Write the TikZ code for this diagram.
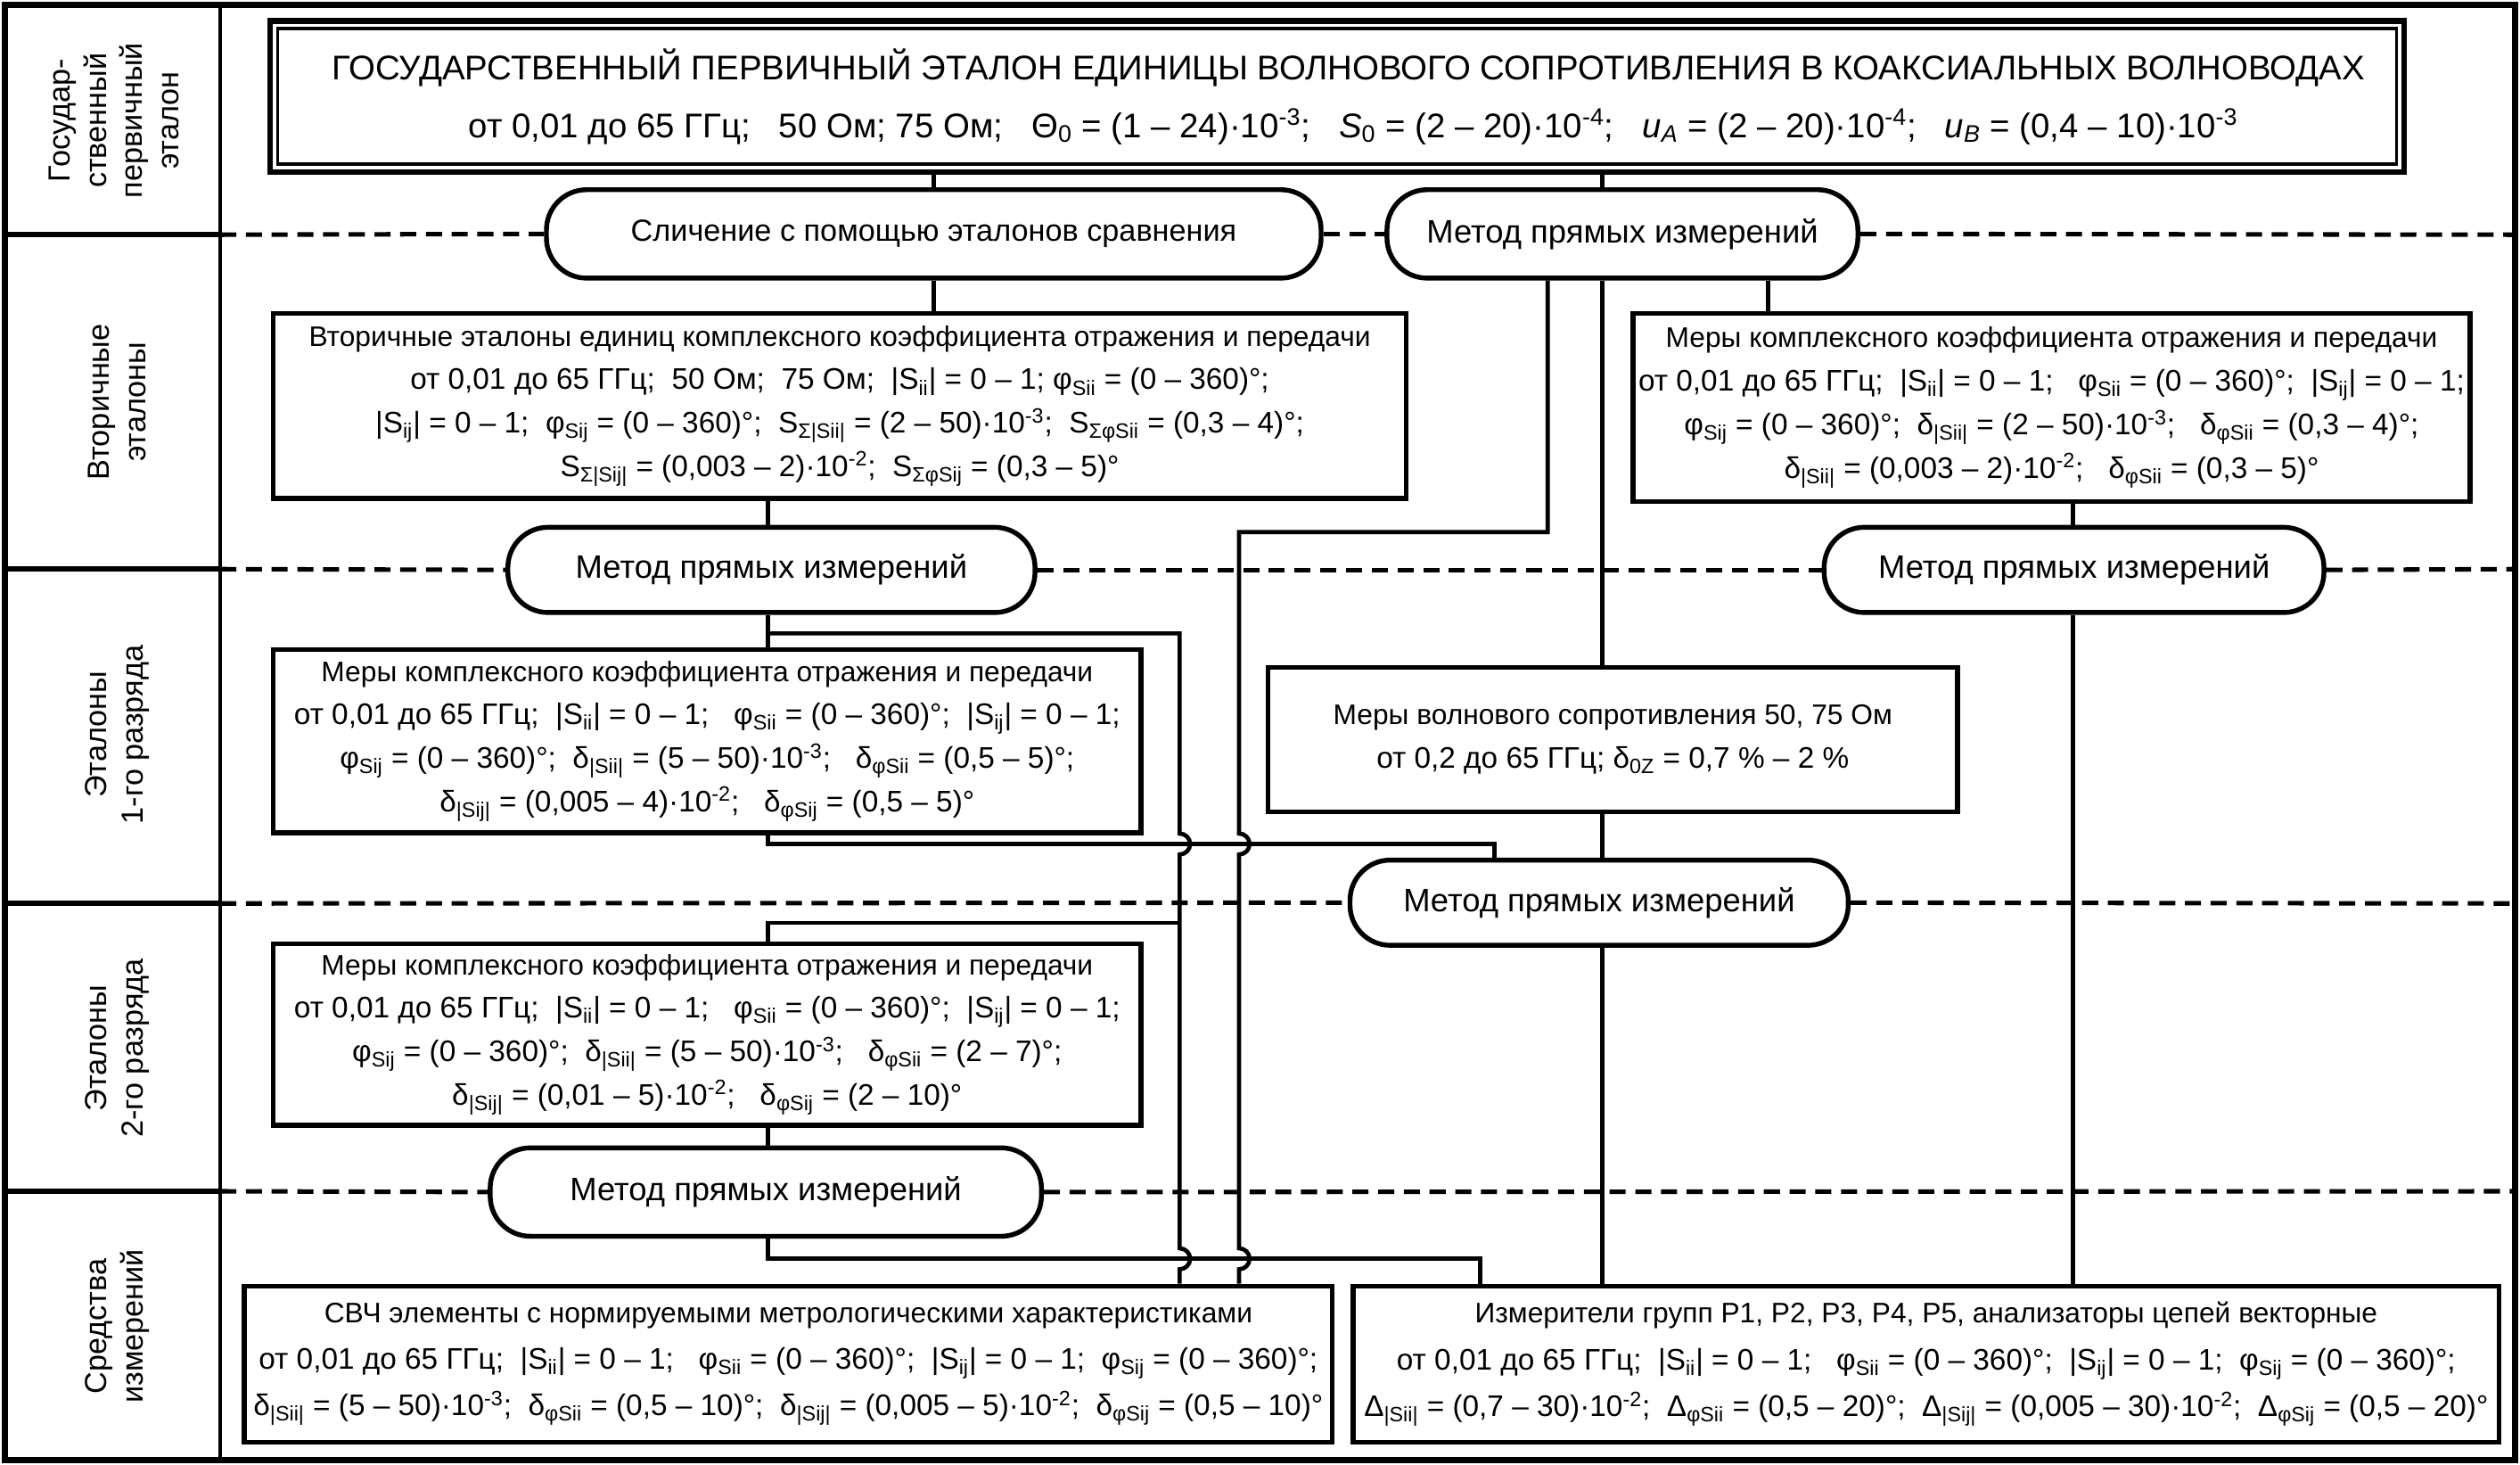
\documentclass[tikz,border=0pt]{standalone}
\usepackage{fontspec}
\setmainfont{Liberation Sans}
\usetikzlibrary{calc}
\newcommand\sbs[1]{\textsubscript{#1}}
\newcommand\sps[1]{\textsuperscript{#1}}
\newcommand\hd[1]{{\fontsize{17.6}{27}\selectfont #1}}
\tikzset{
  boxn/.style={draw, line width=3pt, inner sep=0pt, align=center, font=\fontsize{18.5}{27}\selectfont},
  pilln/.style={draw, line width=3pt, rounded corners=25pt, inner sep=0pt, align=center, font=\fontsize{20.2}{23}\selectfont, fill=white},
  conn/.style={line width=2.6pt},
  rowdash/.style={line width=2.8pt, dash pattern=on 10pt off 6pt},
  rowsolid/.style={line width=3.4pt},
  lab/.style={rotate=90, align=center, font=\fontsize{19}{22.5}\selectfont},
}
\begin{document}
\begin{tikzpicture}[x=1pt,y=-1pt]
\path[fill=white] (0,0) rectangle (1568,911);
\useasboundingbox (0,0) rectangle (1568,911);

% frame and left column
\draw[line width=3.8pt] (3,3) rectangle (1565,908);
\draw[line width=2.6pt] (137,3) -- (137,908);
\foreach \yy in {146,354,562,741} \draw[rowsolid] (3,\yy) -- (137,\yy);

% row labels
\node[lab] (l1) at (71,75) {Государ-\\ственный\\первичный\\эталон};
\node[lab] (l2) at (73,250) {Вторичные\\эталоны};
\node[lab] (l3) at (73,457) {Эталоны\\1-го разряда};
\node[lab] (l4) at (73,652) {Эталоны\\2-го разряда};
\node[lab] (l5) at (73,825) {Средства\\измерений};

% x positions of vertical connectors
\coordinate (vA) at (997,0);
\coordinate (vB) at (963,0);
\coordinate (vC) at (1100,0);
\coordinate (vD) at (771,0);
\coordinate (vE) at (734,0);
\coordinate (vF) at (478,0);
\coordinate (vG) at (930,0);
\coordinate (vH) at (921,0);
\coordinate (vI) at (1290,0);

% top double box
\node[draw, line width=3.4pt, inner sep=0pt, align=center, minimum width=1328pt, minimum height=94pt,
      font=\fontsize{21.3}{36}\selectfont] (top) at (832,60)
 {\hspace*{14pt}ГОСУДАРСТВЕННЫЙ ПЕРВИЧНЫЙ ЭТАЛОН ЕДИНИЦЫ ВОЛНОВОГО СОПРОТИВЛЕНИЯ В КОАКСИАЛЬНЫХ ВОЛНОВОДАХ\\
  \hspace*{20pt}от 0,01 до 65 ГГц;\ \ \ 50 Ом; 75 Ом;\ \ \ Θ\sbs{0} = (1 – 24)·10\sps{-3};\ \ \ \textit{S}\sbs{0} = (2 – 20)·10\sps{-4};\ \ \ \textit{u}\sbs{\textit{A}} = (2 – 20)·10\sps{-4};\ \ \ \textit{u}\sbs{\textit{B}} = (0,4 – 10)·10\sps{-3}};
\draw[line width=2pt] ($(top.north west)+(6.5,6.5)$) rectangle ($(top.south east)+(-6.5,-6.5)$);

% pills
\node[pilln, minimum width=482pt, minimum height=55pt, font=\fontsize{19}{23}\selectfont] (p1) at (581,145.5) {Сличение с помощью эталонов сравнения};
\node[pilln, minimum width=293pt, minimum height=55pt] (p2) at (1009.5,145.5) {Метод прямых измерений};
\node[pilln, minimum width=328pt, minimum height=53pt] (p3) at (480,354.5) {Метод прямых измерений};
\node[pilln, minimum width=311pt, minimum height=53pt] (p4) at (1290.5,354.5) {Метод прямых измерений};
\node[pilln, minimum width=310pt, minimum height=53pt] (p5) at (995,561.5) {Метод прямых измерений};
\node[pilln, minimum width=343pt, minimum height=55pt] (p6) at (476.5,741.5) {Метод прямых измерений};

% boxes
\node[boxn, minimum width=705pt, minimum height=115pt] (sec) at (522.5,252.5)
 {\hd{Вторичные эталоны единиц комплексного коэффициента отражения и передачи}\\
  от 0,01 до 65 ГГц;\ \ 50 Ом;\ \ 75 Ом;\ \ |S\sbs{ii}| = 0 – 1; φ\sbs{Sii} = (0 – 360)°;\\
  |S\sbs{ij}| = 0 – 1;\ \ φ\sbs{Sij} = (0 – 360)°;\ \ S\sbs{Σ|Sii|} = (2 – 50)·10\sps{-3};\ \ S\sbs{ΣφSii} = (0,3 – 4)°;\\
  S\sbs{Σ|Sij|} = (0,003 – 2)·10\sps{-2};\ \ S\sbs{ΣφSij} = (0,3 – 5)°};
\node[boxn, minimum width=521pt, minimum height=117pt] (rb) at (1276.5,253.5)
 {\hd{Меры комплексного коэффициента отражения и передачи}\\
  от 0,01 до 65 ГГц;\ \ |S\sbs{ii}| = 0 – 1;\ \ \ φ\sbs{Sii} = (0 – 360)°;\ \ |S\sbs{ij}| = 0 – 1;\\
  φ\sbs{Sij} = (0 – 360)°;\ \ δ\sbs{|Sii|} = (2 – 50)·10\sps{-3};\ \ \ δ\sbs{φSii} = (0,3 – 4)°;\\
  δ\sbs{|Sii|} = (0,003 – 2)·10\sps{-2};\ \ \ δ\sbs{φSii} = (0,3 – 5)°};
\node[boxn, minimum width=540pt, minimum height=114pt] (r1) at (440,461)
 {\hd{Меры комплексного коэффициента отражения и передачи}\\
  от 0,01 до 65 ГГц;\ \ |S\sbs{ii}| = 0 – 1;\ \ \ φ\sbs{Sii} = (0 – 360)°;\ \ |S\sbs{ij}| = 0 – 1;\\
  φ\sbs{Sij} = (0 – 360)°;\ \ δ\sbs{|Sii|} = (5 – 50)·10\sps{-3};\ \ \ δ\sbs{φSii} = (0,5 – 5)°;\\
  δ\sbs{|Sij|} = (0,005 – 4)·10\sps{-2};\ \ \ δ\sbs{φSij} = (0,5 – 5)°};
\node[boxn, minimum width=429pt, minimum height=90pt] (wave) at (1003.5,460)
 {\hd{Меры волнового сопротивления 50, 75 Ом}\\ от 0,2 до 65 ГГц; δ\sbs{0Z} = 0,7 \% – 2 \%};
\node[boxn, minimum width=540pt, minimum height=113pt] (r2) at (440,643.5)
 {\hd{Меры комплексного коэффициента отражения и передачи}\\
  от 0,01 до 65 ГГц;\ \ |S\sbs{ii}| = 0 – 1;\ \ \ φ\sbs{Sii} = (0 – 360)°;\ \ |S\sbs{ij}| = 0 – 1;\\
  φ\sbs{Sij} = (0 – 360)°;\ \ δ\sbs{|Sii|} = (5 – 50)·10\sps{-3};\ \ \ δ\sbs{φSii} = (2 – 7)°;\\
  δ\sbs{|Sij|} = (0,01 – 5)·10\sps{-2};\ \ \ δ\sbs{φSij} = (2 – 10)°};
\node[boxn, minimum width=677pt, minimum height=97pt, font=\fontsize{18.5}{29}\selectfont] (svch) at (490.5,848.5)
 {\hd{СВЧ элементы с нормируемыми метрологическими характеристиками}\\
  от 0,01 до 65 ГГц;\ \ |S\sbs{ii}| = 0 – 1;\ \ \ φ\sbs{Sii} = (0 – 360)°;\ \ |S\sbs{ij}| = 0 – 1;\ \ φ\sbs{Sij} = (0 – 360)°;\\
  δ\sbs{|Sii|} = (5 – 50)·10\sps{-3};\ \ δ\sbs{φSii} = (0,5 – 10)°;\ \ δ\sbs{|Sij|} = (0,005 – 5)·10\sps{-2};\ \ δ\sbs{φSij} = (0,5 – 10)°};
\node[boxn, minimum width=713pt, minimum height=97pt, font=\fontsize{18.5}{29}\selectfont] (izm) at (1198.5,848.5)
 {\hd{Измерители групп Р1, Р2, Р3, Р4, Р5, анализаторы цепей векторные}\\
  от 0,01 до 65 ГГц;\ \ |S\sbs{ii}| = 0 – 1;\ \ \ φ\sbs{Sii} = (0 – 360)°;\ \ |S\sbs{ij}| = 0 – 1;\ \ φ\sbs{Sij} = (0 – 360)°;\\
  Δ\sbs{|Sii|} = (0,7 – 30)·10\sps{-2};\ \ Δ\sbs{φSii} = (0,5 – 20)°;\ \ Δ\sbs{|Sij|} = (0,005 – 30)·10\sps{-2};\ \ Δ\sbs{φSij} = (0,5 – 20)°};

% dashed row boundaries
\draw[rowdash] (137,146) -- (p1.west);
\draw[rowdash] (p1.east) -- (p2.west);
\draw[rowdash] (p2.east) -- (1565,146);
\draw[rowdash] (137,354) -- (p3.west);
\draw[rowdash] (p3.east) -- (p4.west);
\draw[rowdash] (p4.east) -- (1565,354);
\draw[rowdash] (137,562) -- (p5.west);
\draw[rowdash] (p5.east) -- (1565,562);
\draw[rowdash] (137,741) -- (p6.west);
\draw[rowdash] (p6.east) -- (1565,741);

% junction coordinates
\coordinate (jB) at (771,331);
\coordinate (j1) at (478,394);
\coordinate (j2) at (734,574);
\coordinate (h1) at (0,525);
\coordinate (h2) at (0,783);

% connectors
\draw[conn] (top.south -| p1.north) -- (p1.north);
\draw[conn] (top.south -| vA) -- (p2.north -| vA);
\draw[conn] (p1.south) -- (sec.north -| p1.south);
\draw[conn] (p2.south -| vC) -- (rb.north -| vC);
\draw[conn] (p2.south -| vA) -- (wave.north -| vA);
\draw[conn] (p2.south -| vB) |- (jB) -- (771,518.5) arc[start angle=-90,end angle=90,radius=6.5]
  -- (771,776.5) arc[start angle=-90,end angle=90,radius=6.5] -- (svch.north -| vD);
\draw[conn] (sec.south -| vF) -- (p3.north -| vF);
\draw[conn] (rb.south -| vI) -- (p4.north -| vI);
\draw[conn] (p4.south -| vI) -- (izm.north -| vI);
\draw[conn] (p3.south -| vF) -- (r1.north -| vF);
\draw[conn] (j1) -| (734,518.5) arc[start angle=-90,end angle=90,radius=6.5]
  -- (734,776.5) arc[start angle=-90,end angle=90,radius=6.5] -- (svch.north -| vE);
\draw[conn] (j2) -| (r2.north -| vF);
\draw[conn] (r1.south -| vF) |- (vG |- h1) -- (p5.north -| vG);
\draw[conn] (wave.south -| vA) -- (p5.north -| vA);
\draw[conn] (p5.south -| vA) -- (izm.north -| vA);
\draw[conn] (r2.south -| vF) -- (p6.north -| vF);
\draw[conn] (p6.south -| vF) |- (vH |- h2) -- (izm.north -| vH);
\end{tikzpicture}
\end{document}
